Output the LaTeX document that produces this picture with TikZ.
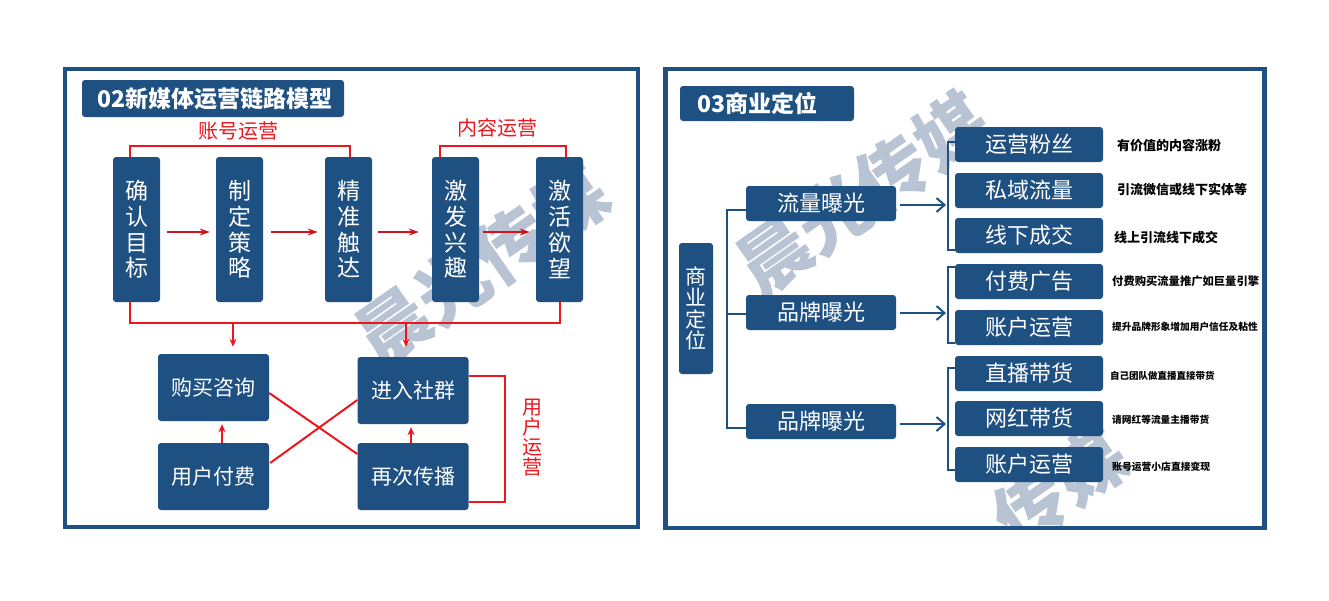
\documentclass[tikz,border=0pt]{standalone}
\usepackage{fontspec}
\newfontfamily\cjk{Noto Sans CJK SC}
\usetikzlibrary{arrows.meta}
\definecolor{navy}{RGB}{31,80,130}
\definecolor{redl}{RGB}{235,22,30}
\definecolor{reda}{RGB}{205,20,30}
\definecolor{wmc}{RGB}{184,195,211}
\tikzset{
  frame/.style={draw=navy, line width=4.5pt},
  wmark/.style={rotate=35, inner sep=0pt, text=wmc, font=\cjk\bfseries\fontsize{72}{72}\selectfont},
  titlebox/.style={fill=navy, rounded corners=3pt, text=white, inner ysep=0pt, align=left, font=\cjk\bfseries\fontsize{23}{23}\selectfont},
  vbox/.style={fill=navy, rounded corners=3pt, text=white, inner sep=0pt, align=center, minimum width=47pt, minimum height=145pt, font=\cjk\fontsize{23}{25.7}\selectfont},
  hbox/.style={fill=navy, rounded corners=3pt, text=white, inner sep=0pt, minimum width=111pt, minimum height=67pt, font=\cjk\fontsize{21}{21}\selectfont},
  mbox/.style={fill=navy, rounded corners=3pt, text=white, inner sep=0pt, minimum width=150pt, minimum height=35pt, font=\cjk\fontsize{22}{22}\selectfont},
  rbox/.style={fill=navy, rounded corners=3pt, text=white, inner sep=0pt, minimum width=148pt, minimum height=35pt, font=\cjk\fontsize{22}{22}\selectfont},
  sbox/.style={fill=navy, rounded corners=3pt, text=white, inner sep=0pt, align=center, minimum width=34pt, minimum height=131pt, font=\cjk\fontsize{21}{21.3}\selectfont},
  redline/.style={draw=redl, line width=2pt},
  redarrow/.style={draw=reda, line width=1.4pt, -{Stealth[length=10pt,width=7pt]}},
  reddown/.style={draw=redl, line width=1.6pt, -{Stealth[length=8pt,width=7pt]}},
  redlabel/.style={text=redl, inner sep=0pt, font=\cjk\fontsize{20}{20}\selectfont},
  navyline/.style={draw=navy, line width=2pt},
  navyarrow/.style={draw=navy, line width=2pt, -{Straight Barb[length=8pt,width=14pt,line width=2pt]}},
  desc/.style={anchor=west, inner sep=0pt, text=black}
}
\begin{document}
\begin{tikzpicture}[x=1pt,y=-1pt]
\useasboundingbox (0,0) rectangle (1329,600);
\fill[white] (0,0) rectangle (1329,600);

% watermarks
\begin{scope}
\clip (67,71) rectangle (636,525);
\node[wmark] (wm1) at (482,265) {晨光传媒};
\end{scope}
\begin{scope}
\clip (668,71) rectangle (1262,526);
\node[wmark] (wm2) at (863,194) {晨光传媒};
\node[wmark] (wm3) at (1060,486.5) {传媒};
\end{scope}

% frames
\draw[frame] (65,69) rectangle (638,527);
\draw[frame] (665.5,69) rectangle (1264.5,528);

% ===== left panel =====
\node[titlebox, inner xsep=15pt, text width=232pt, minimum height=37pt] (t1) at (213,98.5) {02新媒体运营链路模型};

\node[vbox] (n1) at (136.5,229.5) {确\\认\\目\\标};
\node[vbox] (n2) at (239.5,229.5) {制\\定\\策\\略};
\node[vbox] (n3) at (348.5,229.5) {精\\准\\触\\达};
\node[vbox] (n4) at (455.5,229.5) {激\\发\\兴\\趣};
\node[vbox] (n5) at (559.5,229.5) {激\\活\\欲\\望};

\node[redlabel] (l1) at (238,131) {账号运营};
\node[redlabel] (l2) at (497,128) {内容运营};

\draw[redline] ([xshift=-6.5pt]n1.north) -- ++(0,-11) -| ([xshift=1.5pt]n3.north);
\draw[redline] ([xshift=-15.5pt]n4.north) -- ++(0,-11) -| ([xshift=6.5pt]n5.north);

\draw[redarrow] ([shift={(7,2.5)}]n1.east) -- ([shift={(-6,2.5)}]n2.west);
\draw[redarrow] ([shift={(8,2.5)}]n2.east) -- ([shift={(-7,2.5)}]n3.west);
\draw[redarrow] ([shift={(6,2.5)}]n3.east) -- ([shift={(-13,2.5)}]n4.west);
\draw[redarrow] ([shift={(4,2.5)}]n4.east) -- ([shift={(-6,2.5)}]n5.west);

\draw[redline] ([xshift=-6.5pt]n1.south) -- ++(0,21) -| ([xshift=0.5pt]n5.south);

\node[hbox] (b1) at (213.5,387.5) {购买咨询};
\node[hbox] (b2) at (213.5,476.5) {用户付费};
\node[hbox] (b3) at (413,390.5) {进入社群};
\node[hbox] (b4) at (413,476.5) {再次传播};

\coordinate (d1) at (233,323);
\coordinate (d2) at (406,323);
\draw[reddown] (d1) -- ([shift={(19.5,-7)}]b1.north);
\draw[reddown] (d2) -- ([shift={(-7,-10)}]b3.north);

\draw[reddown] ([shift={(8.5,0)}]b2.north) -- ([shift={(8.5,3)}]b1.south);
\draw[reddown] ([shift={(-2,0)}]b4.north) -- ([shift={(-2,3)}]b3.south);

\draw[redline] ([shift={(0,5.5)}]b1.east) -- ([shift={(0,-22.5)}]b4.west);
\draw[redline] ([shift={(1,-13.5)}]b2.east) -- ([shift={(0,9.5)}]b3.west);

\draw[redline] ([shift={(0,-14.5)}]b3.east) -- ++(36,0) |- ([shift={(0,25.5)}]b4.east);
\node[redlabel, align=center] (l3) at (532,438) {用\\户\\运\\营};

% ===== right panel =====
\node[titlebox, inner xsep=17pt, text width=140pt, minimum height=35pt] (t2) at (767,103.5) {03商业定位};
\node[sbox] (s0) at (696,308.5) {商\\业\\定\\位};

\node[mbox] (m1) at (821,203.5) {流量曝光};
\node[mbox] (m2) at (821,312.5) {品牌曝光};
\node[mbox] (m3) at (821,421.5) {品牌曝光};

\draw[navyline] ([shift={(0,6.5)}]m1.west) -- ++(-19,0) |- ([shift={(0,6.5)}]m3.west);
\draw[navyline] ([shift={(0,1.5)}]m2.west) -- ++(-19,0);

\node[rbox] (r1) at (1029,144.5) {运营粉丝};
\node[rbox] (r2) at (1029,190.5) {私域流量};
\node[rbox] (r3) at (1029,235.5) {线下成交};
\node[rbox] (r4) at (1029,281.5) {付费广告};
\node[rbox] (r5) at (1029,327.5) {账户运营};
\node[rbox] (r6) at (1029,373.5) {直播带货};
\node[rbox] (r7) at (1029,418.5) {网红带货};
\node[rbox] (r8) at (1029,464.5) {账户运营};

\draw[navyline] ([shift={(0,-2.5)}]r1.west) -- ++(-7,0) |- ([shift={(0,14.5)}]r3.west);
\draw[navyline] ([shift={(0,-14.5)}]r4.west) -- ++(-7,0) |- ([shift={(0,15.5)}]r5.west);
\draw[navyline] ([shift={(0,-5.5)}]r6.west) -- ++(-7,0) |- ([shift={(0,5.5)}]r8.west);

\coordinate (a1) at (946,205);
\coordinate (a2) at (946,313);
\coordinate (a3) at (946,424);
\draw[navyarrow] ([shift={(4,1.5)}]m1.east) -- (a1);
\draw[navyarrow] ([shift={(4,0.5)}]m2.east) -- (a2);
\draw[navyarrow] ([shift={(4,2.5)}]m3.east) -- (a3);

\node[desc, font=\cjk\bfseries\fontsize{13}{13}\selectfont] (e1) at (1117,146) {有价值的内容涨粉};
\node[desc, font=\cjk\bfseries\fontsize{13}{13}\selectfont] (e2) at (1117,190) {引流微信或线下实体等};
\node[desc, font=\cjk\bfseries\fontsize{13}{13}\selectfont] (e3) at (1114,238) {线上引流线下成交};
\node[desc, font=\cjk\bfseries\fontsize{11.3}{12}\selectfont] (e4) at (1112,281) {付费购买流量推广如巨量引擎};
\node[desc, font=\cjk\bfseries\fontsize{9.7}{10}\selectfont] (e5) at (1112,327) {提升品牌形象增加用户信任及粘性};
\node[desc, font=\cjk\bfseries\fontsize{9.5}{10}\selectfont] (e6) at (1110,376) {自己团队做直播直接带货};
\node[desc, font=\cjk\bfseries\fontsize{9.7}{10}\selectfont] (e7) at (1112,420) {请网红等流量主播带货};
\node[desc, font=\cjk\bfseries\fontsize{9.8}{10}\selectfont] (e8) at (1112,467) {账号运营小店直接变现};
\end{tikzpicture}
\end{document}
